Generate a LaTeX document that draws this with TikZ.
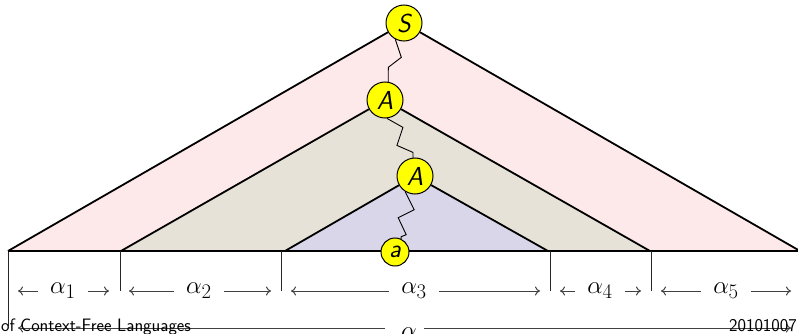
\documentclass[tikz,border=0pt]{standalone}
\usepackage{fontspec}
\usetikzlibrary{arrows.meta}
\definecolor{outerfill}{RGB}{253,232,234}
\definecolor{midfill}{RGB}{230,226,216}
\definecolor{innerfill}{RGB}{216,214,232}
\definecolor{symbol}{RGB}{255,255,0}
\tikzset{
  sym/.style={circle, draw=black, line width=1pt, fill=symbol, inner sep=0pt,
    minimum size=36pt, font=\sffamily\itshape\fontsize{26}{26}\selectfont},
  termsym/.style={sym, minimum size=28pt},
  side/.style={line width=1.8pt, line join=miter},
  derive/.style={line width=0.9pt, line join=miter},
  tick/.style={line width=1pt, black!85},
  lab/.style={inner sep=0pt, font=\fontsize{29}{29}\selectfont},
  arr/.style={line width=1pt, black!75, -{To[length=5pt,width=9pt]}},
  foot/.style={inner sep=0pt, font=\sffamily\fontsize{18}{18}\selectfont}
}
\begin{document}
\begin{tikzpicture}[x=1pt, y=-1pt]
\clip (0,0) rectangle (798,334);
\fill[white] (0,0) rectangle (798,334);

% parse-tree triangles
\coordinate (o1) at (8,251);   \coordinate (o2) at (800,251);
\coordinate (m1) at (121,251); \coordinate (m2) at (650,251);
\coordinate (i1) at (285,251); \coordinate (i2) at (548,251);
\fill[outerfill] (o1) -- (404,23) -- (o2) -- cycle;
\fill[midfill] (m1) -- (385,100) -- (m2) -- cycle;
\fill[innerfill] (i1) -- (415,176) -- (i2) -- cycle;
\draw[line width=2.4pt] (o1) -- (o2);

% segment boundaries
\coordinate (t0) at (8,251);   \coordinate (t0b) at (8,326);
\coordinate (t1) at (120,251); \coordinate (t1b) at (120,291);
\coordinate (t2) at (281,251); \coordinate (t2b) at (281,291);
\coordinate (t3) at (550,251); \coordinate (t3b) at (550,291);
\coordinate (t4) at (651,251); \coordinate (t4b) at (651,291);
\draw[tick] (t0) -- (t0b);
\draw[tick] (t1) -- (t1b);
\draw[tick] (t2) -- (t2b);
\draw[tick] (t3) -- (t3b);
\draw[tick] (t4) -- (t4b);

% symbols
\node[sym] (S) at (404,23) {S};
\node[sym] (A1) at (385,100) {A};
\node[sym] (A2) at (415,176) {A};
\node[termsym] (a) at (395,252) {a};

\draw[side] (o1) -- (S) -- (o2);
\draw[side] (m1) -- (A1) -- (m2);
\draw[side] (i1) -- (A2) -- (i2);

% derivation steps
\draw[derive] (S.242) -- ++(6,18) -- ++(-13,10) -- (A1.80);
\draw[derive] (A1.276) -- ++(16,9) -- ++(-6,18) -- ++(16,7) -- (A2.96);
\draw[derive] (A2.238) -- ++(9,18) -- ++(-16,8) -- ++(8,17) -- ++(-5,2) -- (a.65);

% lengths of the pieces
\node[lab] (al1) at (63,291) {$\alpha_1$};
\coordinate (e1l) at (18,291);  \coordinate (e1r) at (109,291);
\draw[arr] ([xshift=-12pt]al1.west) -- (e1l);
\draw[arr] ([xshift=12pt]al1.east) -- (e1r);

\node[lab] (al2) at (199,291) {$\alpha_2$};
\coordinate (e2l) at (129,291); \coordinate (e2r) at (271,291);
\draw[arr] ([xshift=-12pt]al2.west) -- (e2l);
\draw[arr] ([xshift=12pt]al2.east) -- (e2r);

\node[lab] (al3) at (414,291) {$\alpha_3$};
\coordinate (e3l) at (291,291); \coordinate (e3r) at (540,291);
\draw[arr] ([xshift=-12pt]al3.west) -- (e3l);
\draw[arr] ([xshift=12pt]al3.east) -- (e3r);

\node[lab] (al4) at (600,291) {$\alpha_4$};
\coordinate (e4l) at (560,291); \coordinate (e4r) at (641,291);
\draw[arr] ([xshift=-12pt]al4.west) -- (e4l);
\draw[arr] ([xshift=12pt]al4.east) -- (e4r);

\node[lab] (al5) at (726,291) {$\alpha_5$};
\coordinate (e5l) at (661,291); \coordinate (e5r) at (791,291);
\draw[arr] ([xshift=-12pt]al5.west) -- (e5l);
\draw[arr] ([xshift=12pt]al5.east) -- (e5r);

\node[lab] (al) at (409,333) {$\alpha$};
\coordinate (el) at (18,328); \coordinate (er) at (791,328);
\draw[arr] (385,328) -- (el);
\draw[arr] (424,328) -- (er);

% footline
\node[foot, anchor=base west] (ftl) at (1,331) {of Context-Free Languages};
\node[foot, anchor=base east] (ftr) at (797,331) {20101007};
\end{tikzpicture}
\end{document}
